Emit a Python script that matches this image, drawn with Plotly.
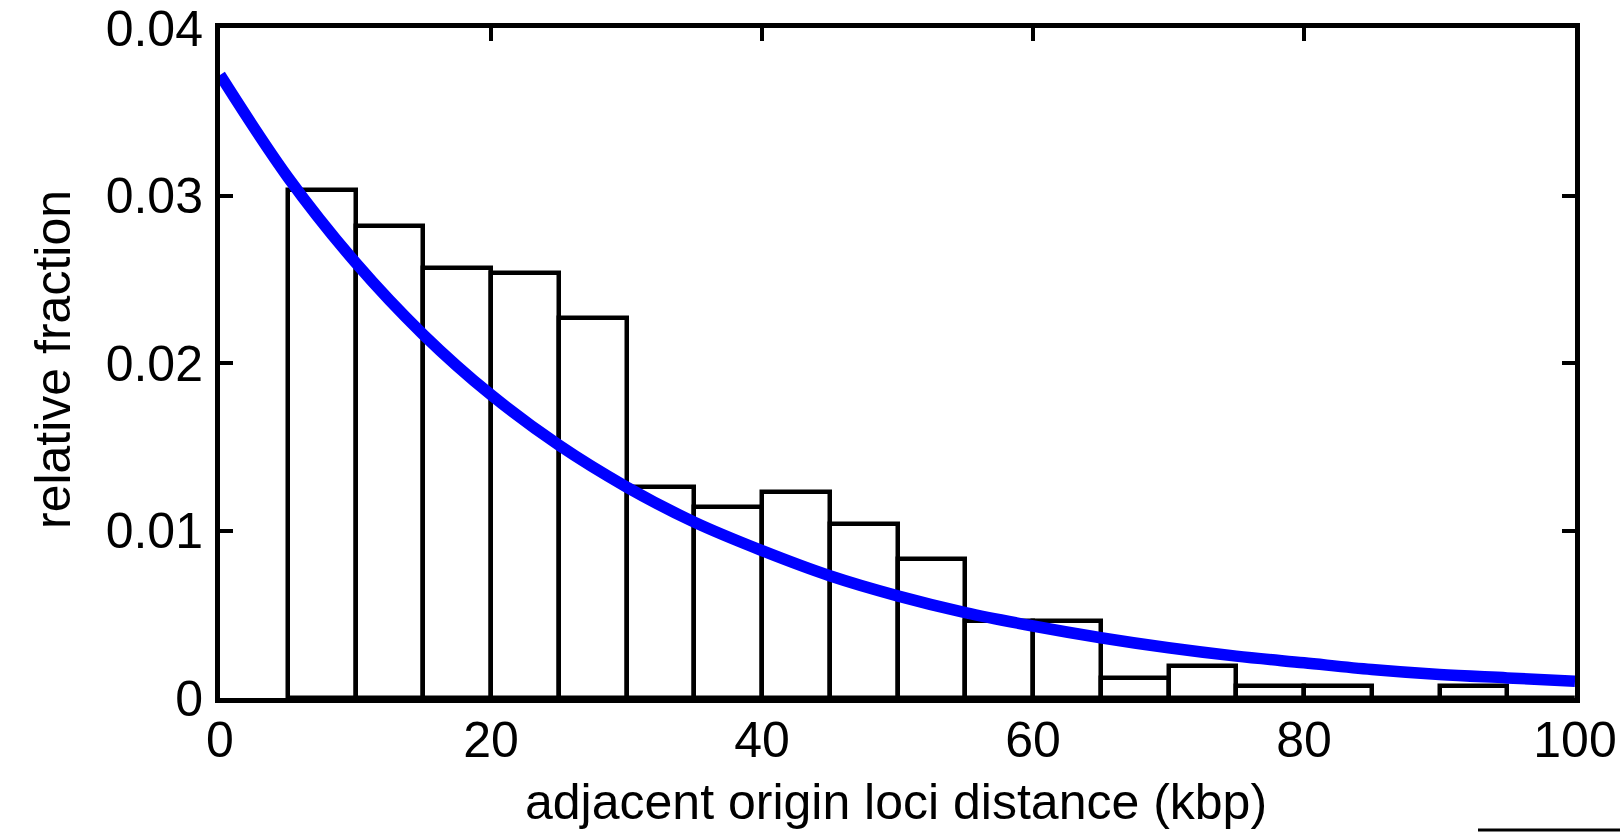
import plotly.graph_objects as go

# histogram bins (kbp) and relative fractions
bin_left = [5, 10, 15, 20, 25, 30, 35, 40, 45, 50, 55, 60, 65, 70, 75, 80, 85, 90, 95]
fractions = [0.0303, 0.0282, 0.0257, 0.0254, 0.0227, 0.0126, 0.0114, 0.0123, 0.0104,
             0.0083, 0.0046, 0.0046, 0.0012, 0.0019, 0.0007, 0.0007, 0.0, 0.0007, 0.0]
bin_width = 5

# fitted curve
curve_x = [0, 5, 10, 15, 20, 25, 30, 35, 40, 45, 50, 55, 60, 65, 70, 75, 80, 85, 90, 95, 100]
curve_y = [0.0372, 0.0311, 0.0260, 0.0217, 0.0181, 0.0151, 0.0126, 0.0105, 0.0088, 0.0073,
           0.0061, 0.0051, 0.0043, 0.0036, 0.0030, 0.0025, 0.0021, 0.0017, 0.0014, 0.0012, 0.0010]

x_ticks = [0, 20, 40, 60, 80, 100]
y_ticks = [0, 0.01, 0.02, 0.03, 0.04]
y_ticktext = ["0", "0.01", "0.02", "0.03", "0.04"]

x_title = "adjacent origin loci distance (kbp)"
y_title = "relative fraction"

FONT = "Liberation Sans, Arial, sans-serif"
FS = 50

W, H = 1620, 833
L, T = 220, 28
R = W - 1575
B = H - 698
PW, PH = W - L - R, H - T - B


def px_x(page_x):
    return (page_x - L) / PW


def px_y(page_y):
    return (T + PH - page_y) / PH


fig = go.Figure()
fig.add_trace(go.Bar(
    x=[b + bin_width / 2 for b in bin_left],
    y=fractions,
    width=[bin_width] * len(bin_left),
    marker=dict(color="white", line=dict(color="black", width=4.5)),
    showlegend=False,
))
fig.add_trace(go.Scatter(
    x=curve_x, y=curve_y, mode="lines",
    line=dict(color="#0000ff", width=11.5, shape="spline"),
    showlegend=False,
))

axis_common = dict(
    showline=True, linecolor="black", linewidth=5, mirror="ticks",
    ticks="inside", ticklen=13, tickwidth=4, tickcolor="black",
    showgrid=False, zeroline=False, automargin=False,
    ticklabeloverflow="allow",
    tickfont=dict(family=FONT, size=FS, color="black"),
)

fig.update_layout(
    width=W, height=H,
    margin=dict(l=L, r=R, t=T, b=B, autoexpand=False),
    paper_bgcolor="white", plot_bgcolor="white",
    font=dict(family=FONT, color="black"),
    bargap=0,
    xaxis=dict(range=[0, 100], tickvals=x_ticks, ticklabelstandoff=-6, **axis_common),
    yaxis=dict(range=[0, 0.04], tickvals=y_ticks, ticktext=y_ticktext,
               ticklabelstandoff=2, **axis_common),
)

fig.add_annotation(text=x_title, xref="paper", yref="paper",
                   x=px_x((517 + 1274) / 2), y=px_y(802),
                   xanchor="center", yanchor="middle", showarrow=False,
                   font=dict(family=FONT, size=FS, color="black"))
fig.add_annotation(text=y_title, xref="paper", yref="paper",
                   x=px_x(53), y=px_y(360), textangle=-90,
                   xanchor="center", yanchor="middle", showarrow=False,
                   font=dict(family=FONT, size=FS, color="black"))

fig.add_shape(type="line", xref="paper", yref="paper",
              x0=px_x(1478), x1=px_x(1620),
              y0=px_y(830), y1=px_y(830),
              line=dict(color="black", width=3))

fig.write_html("out.html", config={"displayModeBar": False},
               post_script="document.body.style.margin='0';")
